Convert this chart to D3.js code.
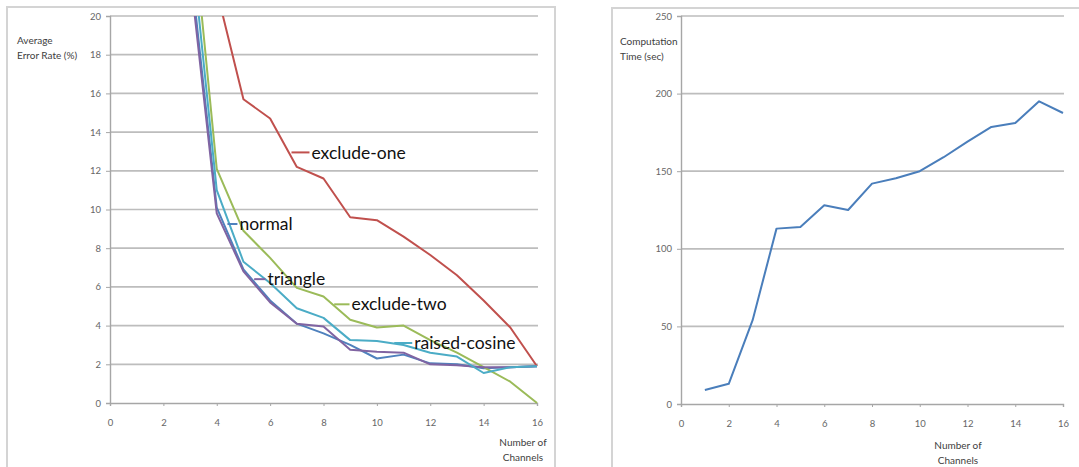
<!DOCTYPE html>
<html>
<head>
<meta charset="utf-8">
<script src="https://cdn.jsdelivr.net/npm/d3@7"></script>
<style>
  body { margin: 0; background: #fff; }
  svg { display: block; }
  .tick text { font-family: Lato, "Liberation Sans", sans-serif; fill: #666; }
</style>
</head>
<body>
<div id="chart"></div>
<script>
// channel counts shared by both charts
const channels = [1, 2, 3, 4, 5, 6, 7, 8, 9, 10, 11, 12, 13, 14, 15, 16];

// left chart: average error rate (%) per method
const normal       = [40, 30, 22.8, 10.1, 6.9, 5.3, 4.1, 3.6, 3.0, 2.3, 2.5, 2.05, 2.0, 1.8, 1.85, 1.9];
const excludeOne   = [45, 36, 27.0, 21.3, 15.7, 14.7, 12.2, 11.6, 9.6, 9.45, 8.6, 7.65, 6.6, 5.3, 3.9, 1.9];
const excludeTwo   = [42, 33, 26.2, 12.1, 8.9, 7.5, 5.95, 5.5, 4.3, 3.9, 4.0, 3.25, 2.6, 1.85, 1.1, 0];
const triangle     = [40, 30, 22.2, 9.8, 6.8, 5.2, 4.1, 3.95, 2.75, 2.65, 2.6, 2.0, 1.95, 1.85, 1.85, 1.9];
const raisedCosine = [41, 31, 24.4, 11.0, 7.3, 6.2, 4.9, 4.4, 3.25, 3.2, 3.0, 2.6, 2.4, 1.55, 1.85, 1.9];

// right chart: computation time (sec)
const compTime = [9, 13, 54, 113, 114, 128, 125, 142, 145.5, 150, 159, 169, 178.5, 181, 195, 187.5];

const xTicks = [0, 2, 4, 6, 8, 10, 12, 14, 16];
const errTicks = [0, 2, 4, 6, 8, 10, 12, 14, 16, 18, 20];
const timeTicks = [0, 50, 100, 150, 200, 250];

const errSeries = [
  { name: "normal", values: normal, color: "#4f81bd", label: [4.85, 9.25], from: 4.4 },
  { name: "exclude-one", values: excludeOne, color: "#c0504d", label: [7.55, 12.95], from: 6.8 },
  { name: "exclude-two", values: excludeTwo, color: "#9bbb59", label: [9.05, 5.1], from: 8.4 },
  { name: "triangle", values: triangle, color: "#8064a2", label: [5.9, 6.4], from: 5.4 },
  { name: "raised-cosine", values: raisedCosine, color: "#4bacc6", label: [11.4, 3.1], from: 10.65 }
];

const W = 1079, H = 467;
const svg = d3.select("#chart").append("svg")
  .attr("width", W)
  .attr("height", H);

// panel frames
svg.append("rect").attr("x", 7).attr("y", 7).attr("width", 548).attr("height", 480)
  .attr("fill", "none").attr("stroke", "#d4d4d4").attr("stroke-width", 2);
svg.append("rect").attr("x", 612).attr("y", 8).attr("width", 480).attr("height", 480)
  .attr("fill", "none").attr("stroke", "#d4d4d4").attr("stroke-width", 2);

function drawFrame(x, y, yTicks, id) {
  const [x0, x1] = x.range();
  // gridlines
  svg.append("g").selectAll("line")
    .data(yTicks.filter(t => t !== 0))
    .join("line")
      .attr("x1", x0).attr("x2", x1 + 1)
      .attr("y1", d => y(d)).attr("y2", d => y(d))
      .attr("stroke", "#bdbdbd").attr("stroke-width", 1.7);

  const gy = svg.append("g")
    .attr("transform", `translate(${x0},0)`)
    .call(d3.axisLeft(y).tickValues(yTicks).tickSize(4).tickPadding(5));
  gy.selectAll("text").attr("font-size", 9.5);

  const gx = svg.append("g")
    .attr("transform", `translate(0,${y.range()[0]})`)
    .call(d3.axisBottom(x).tickValues(xTicks).tickSize(3).tickPadding(13));
  gx.selectAll("text").attr("font-size", 9.5);

  [gx, gy].forEach(g => {
    g.select(".domain").attr("stroke", "#a6a6a6").attr("stroke-width", 1.4);
    g.selectAll(".tick line").attr("stroke", "#a6a6a6");
  });

  svg.append("clipPath").attr("id", id)
    .append("rect")
      .attr("x", x0 - 2).attr("y", y.range()[1])
      .attr("width", x1 - x0 + 4).attr("height", y.range()[0] - y.range()[1] + 2);
}

function axisTitle(lines, xPos, yPos, anchor) {
  const t = svg.append("text")
    .attr("font-family", "Lato, 'Liberation Sans', sans-serif")
    .attr("font-size", 10)
    .attr("fill", "#404040")
    .attr("text-anchor", anchor);
  lines.forEach((s, i) => {
    t.append("tspan").attr("x", xPos).attr("y", yPos + i * 15).text(s);
  });
}

// ---- left chart ----
const xL = d3.scaleLinear().domain([0, 16]).range([110, 537]);
const yL = d3.scaleLinear().domain([0, 20]).range([403, 16]);
drawFrame(xL, yL, errTicks, "clipL");

const lineL = d3.line()
  .x((d, i) => xL(channels[i]))
  .y(d => yL(d));

const plotL = svg.append("g").attr("clip-path", "url(#clipL)");
errSeries.forEach(s => {
  plotL.append("path")
    .attr("d", lineL(s.values))
    .attr("fill", "none")
    .attr("stroke", s.color)
    .attr("stroke-width", 2)
    .attr("stroke-linejoin", "round");
});

// data labels with leader lines
errSeries.forEach(s => {
  svg.append("line")
    .attr("x1", xL(s.from)).attr("x2", xL(s.label[0]) - 2)
    .attr("y1", yL(s.label[1])).attr("y2", yL(s.label[1]))
    .attr("stroke", s.color).attr("stroke-width", 2);
  svg.append("text")
    .attr("x", xL(s.label[0]))
    .attr("y", yL(s.label[1]))
    .attr("dy", "0.35em")
    .attr("font-family", "Lato, 'Liberation Sans', sans-serif")
    .attr("font-size", 17.5)
    .attr("fill", "#111")
    .text(s.name);
});

axisTitle(["Average", "Error Rate (%)"], 17, 44, "start");
axisTitle(["Number of", "Channels"], 523, 446, "middle");

// ---- right chart ----
const xR = d3.scaleLinear().domain([0, 16]).range([681, 1063]);
const yR = d3.scaleLinear().domain([0, 250]).range([404, 16]);
drawFrame(xR, yR, timeTicks, "clipR");

const lineR = d3.line()
  .x((d, i) => xR(channels[i]))
  .y(d => yR(d));

svg.append("path")
  .attr("d", lineR(compTime))
  .attr("fill", "none")
  .attr("stroke", "#4a7ebb")
  .attr("stroke-width", 2)
  .attr("stroke-linejoin", "round");

axisTitle(["Computation", "Time (sec)"], 620, 45, "start");
axisTitle(["Number of", "Channels"], 958, 449, "middle");
</script>
</body>
</html>
